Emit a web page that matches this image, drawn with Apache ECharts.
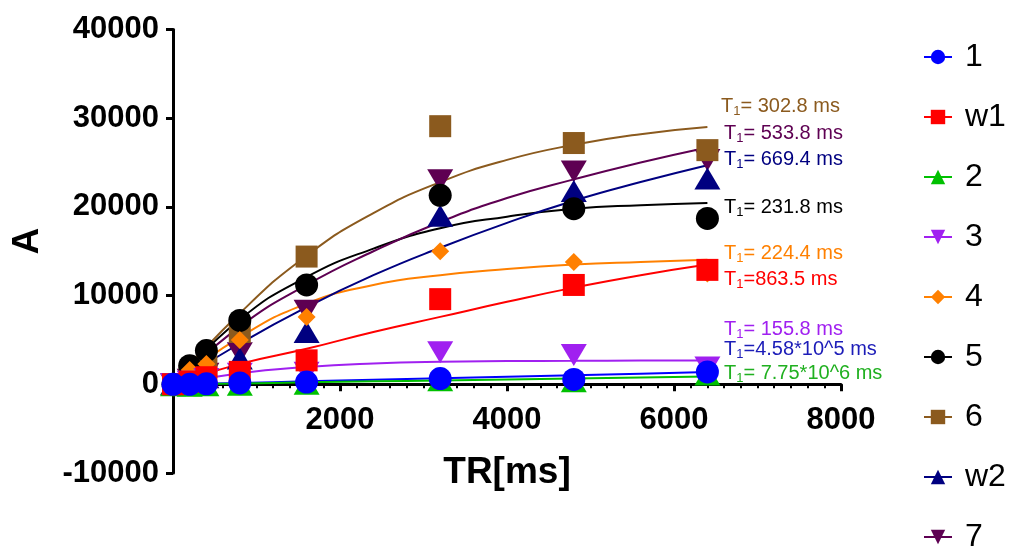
<!DOCTYPE html>
<html>
<head>
<meta charset="utf-8">
<title>T1 saturation recovery</title>
<script src="https://cdn.jsdelivr.net/npm/echarts@6/dist/echarts.min.js"></script>
<style>
    html, body { margin: 0; padding: 0; background: #fff; }
    #chart { width: 1016px; height: 547px; }
</style>
</head>
<body>
<div id="chart"></div>
<script>
/* measured points */
var TR = [0, 200, 400, 800, 1600, 3200, 4800, 6400]
var TR_FIT = [0, 800, 1600, 2400, 3200, 4000, 4800, 5600, 6400]

var names = ['1', 'w1', '2', '3', '4', '5', '6', 'w2', '7']

var A_1  = [0, 0, 50, 150, 250, 650, 550, 1400]
var A_w1 = [0, 300, 800, 1400, 2700, 9600, 11200, 12900]
var A_2  = [-100, -150, -100, -50, 50, 450, 350, 1100]
var A_3  = [0, 300, 600, 1200, 1300, 3600, 3300, 1900]
var A_4  = [0, 1600, 2300, 5000, 7600, 15000, 13800, 12500]
var A_5  = [0, 2100, 3800, 7200, 11200, 21300, 19800, 18700]
var A_6  = [0, 900, 2000, 5900, 14400, 29100, 27200, 26400]
var A_w2 = [0, 300, 800, 2900, 5900, 19000, 21800, 23200]
var A_7  = [0, 500, 1200, 3500, 8300, 23000, 24000, 25300]

var FIT_1  = [0, 150, 330, 500, 680, 850, 1020, 1200, 1380]
var FIT_w1 = [0, 2300, 4000, 5900, 7600, 9300, 10900, 12300, 13500]
var FIT_2  = [0, 100, 220, 330, 440, 550, 660, 770, 880]
var FIT_3  = [0, 1250, 1950, 2350, 2550, 2620, 2650, 2670, 2680]
var FIT_4  = [0, 5300, 9100, 11200, 12300, 13000, 13500, 13800, 14050]
var FIT_5  = [0, 7300, 12100, 15300, 17600, 18900, 19800, 20200, 20450]
var FIT_6  = [0, 8000, 14500, 19300, 22800, 25300, 27000, 28200, 29000]
var FIT_w2 = [0, 4600, 8700, 12300, 15400, 18200, 20700, 22800, 24700]
var FIT_7  = [0, 6500, 11200, 15000, 18300, 21000, 23100, 25000, 26700]

var points = [A_1, A_w1, A_2, A_3, A_4, A_5, A_6, A_w2, A_7]
var fits = [FIT_1, FIT_w1, FIT_2, FIT_3, FIT_4, FIT_5, FIT_6, FIT_w2, FIT_7]

var xTicks = [0, 2000, 4000, 6000, 8000]
var yTicks = [-10000, 0, 10000, 20000, 30000, 40000]

var t1Text = ['= 302.8 ms', '= 533.8 ms', '= 669.4 ms', '= 231.8 ms', '= 224.4 ms',
              '=863.5 ms', '= 155.8 ms', '=4.58*10^5 ms', '= 7.75*10^6 ms']

var FONT = '"Liberation Sans", Arial, sans-serif'
var DOWN = 'path://M0,0 L20,0 L10,17 Z'

var colors = ['#0000ff', '#ff0000', '#00c000', '#a020f0', '#ff8000',
              '#000000', '#8b5a1e', '#000080', '#5e0052']
var symbols = ['circle', 'rect', 'triangle', DOWN, 'diamond',
               'circle', 'rect', 'triangle', DOWN]
var sizes = [23, 22, [26, 22], [26, 22], 18, 23, 22, [26, 22], [26, 22]]

function pairs(xs, ys) {
    return ys.map(function (y, i) { return [xs[i], y] })
}

var series = []
/* fitted curves first, the legend takes its icon from them */
names.forEach(function (n, i) {
    series.push({
        name: n,
        type: 'line',
        smooth: true,
        showSymbol: false,
        symbol: symbols[i],
        symbolSize: sizes[i],
        color: colors[i],
        lineStyle: { width: 2, color: colors[i] },
        data: pairs(TR_FIT, fits[i]),
        z: 2,
        silent: true
    })
})
/* markers, drawn last-to-first so that "1" ends on top */
for (var i = names.length - 1; i >= 0; i--) {
    series.push({
        name: names[i],
        type: 'scatter',
        symbol: symbols[i],
        symbolSize: sizes[i],
        itemStyle: { color: colors[i], opacity: 1 },
        data: pairs(TR, points[i]),
        z: 3
    })
}

/* T1 annotations, in the colour of their fit */
var labelColors = ['#8b5a1e', '#5e0052', '#000080', '#000000', '#ff8000',
                   '#ff0000', '#a020f0', '#1c1cb8', '#20b020']
var labelY = [106, 133, 159, 207, 253, 279, 329, 349, 373]
var graphics = t1Text.map(function (t, i) {
    return {
        type: 'text',
        x: i === 0 ? 721 : 724,
        y: labelY[i],
        style: {
            text: '{t|T}{s|1}{t|' + t + '}',
            verticalAlign: 'middle',
            align: 'left',
            fill: labelColors[i],
            fontFamily: FONT,
            rich: {
                t: { fontSize: 20, lineHeight: 24, fontFamily: FONT, fill: labelColors[i] },
                s: { fontSize: 13, lineHeight: 14, verticalAlign: 'bottom', fontFamily: FONT, fill: labelColors[i] }
            }
        }
    }
})

var GRID_BOTTOM = 74
var chart = echarts.init(document.getElementById('chart'))
var option = {
    animation: false,
    backgroundColor: '#fff',
    grid: { left: 173, right: 175, top: 29.5, bottom: GRID_BOTTOM, containLabel: false, outerBoundsMode: 'none' },
    legend: {
        orient: 'vertical',
        left: 923,
        top: 41,
        height: 530,
        padding: 0,
        itemWidth: 28,
        itemHeight: 18,
        itemGap: 28,
        data: names,
        textStyle: { fontSize: 32, lineHeight: 32, fontFamily: FONT, color: '#000', padding: [0, 0, 0, 8] }
    },
    xAxis: {
        type: 'value',
        min: xTicks[0],
        max: xTicks[xTicks.length - 1],
        interval: 2000,
        /* axis sits on A = 0: 1/5 of the plot height above the bottom */
        offset: -(547 - 29.5 - GRID_BOTTOM) / 5,
        name: 'TR[ms]',
        nameLocation: 'middle',
        nameGap: 70,
        nameMoveOverlap: false,
        nameTextStyle: { fontSize: 37, fontWeight: 'bold', fontFamily: FONT, color: '#000' },
        axisLine: { onZero: false, lineStyle: { color: '#000', width: 3 } },
        axisTick: { length: 7, lineStyle: { color: '#000', width: 3 } },
        minorTick: { show: true, splitNumber: 10, length: 4, lineStyle: { color: '#000', width: 2 } },
        splitLine: { show: false },
        axisLabel: {
            margin: 21,
            fontSize: 31,
            fontWeight: 'bold',
            fontFamily: FONT,
            color: '#000',
            formatter: function (v) { return v === 0 ? '' : String(v) }
        }
    },
    yAxis: {
        type: 'value',
        min: yTicks[0],
        max: yTicks[yTicks.length - 1],
        interval: 10000,
        name: 'A',
        nameLocation: 'middle',
        nameGap: 127,
        nameMoveOverlap: false,
        nameTextStyle: { fontSize: 37, fontWeight: 'bold', fontFamily: FONT, color: '#000', padding: [0, 0, 0, 20] },
        axisLine: { lineStyle: { color: '#000', width: 3 } },
        axisTick: { length: 7, lineStyle: { color: '#000', width: 3 } },
        splitLine: { show: false },
        axisLabel: {
            margin: 14,
            fontSize: 31,
            fontWeight: 'bold',
            fontFamily: FONT,
            color: '#000',
            formatter: function (v) { return String(v) }
        }
    },
    series: series,
    graphic: graphics
}
chart.setOption(option)
</script>
</body>
</html>
